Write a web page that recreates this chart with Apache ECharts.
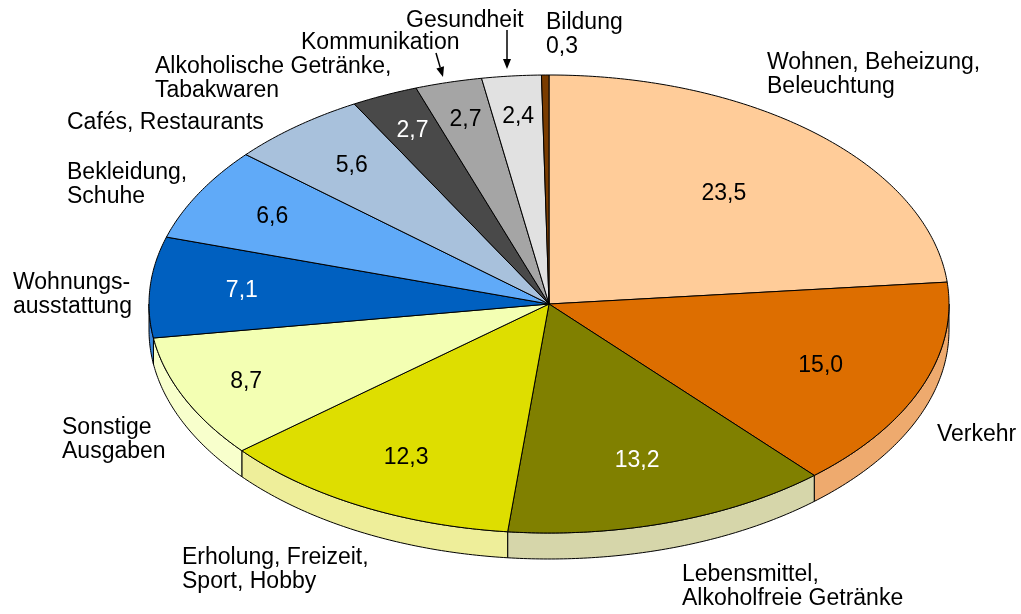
<!DOCTYPE html>
<html>
<head>
<meta charset="utf-8">
<script src="https://cdn.jsdelivr.net/npm/echarts@6/dist/echarts.min.js"></script>
<style>
  html, body { margin: 0; background: #fff; }
  #chart { width: 1021px; height: 614px; }
</style>
</head>
<body>
<div id="chart"></div>
<script>
// == Data ====================================================================
const categories = [
  'Wohnen, Beheizung,\nBeleuchtung', 'Verkehr', 'Lebensmittel,\nAlkoholfreie Getränke',
  'Erholung, Freizeit,\nSport, Hobby', 'Sonstige\nAusgaben', 'Wohnungs-\nausstattung',
  'Bekleidung,\nSchuhe', 'Cafés, Restaurants', 'Alkoholische Getränke,\nTabakwaren',
  'Kommunikation', 'Gesundheit', 'Bildung'
]
const shares = [23.5, 15.0, 13.2, 12.3, 8.7, 7.1, 6.6, 5.6, 2.7, 2.7, 2.4, 0.3]
const valueLabels = shares.map(v => v.toFixed(1).replace('.', ','))

// == Styles ==================================================================
const topColors = ['#ffcc99', '#dd6e00', '#808000', '#dede00', '#f3ffb3', '#0060c0',
  '#60aaf8', '#a8c1dc', '#494949', '#a5a5a5', '#e1e1e1', '#7a3c00']
const sideColors = ['#ffdcb8', '#eeaa6e', '#d6d6aa', '#eeee9a', '#f8ffcc', '#3a88e0',
  '#90c4fa', '#c6d6e8', '#777777', '#c0c0c0', '#eeeeee', '#a06030']
const whiteText = [false, false, true, false, false, true, false, false, true, false, false, false]
// how far out (fraction of the radius) the value label sits inside each slice
const labelPull = [0.65, 0.73, 0.72, 0.76, 0.83, 0.77, 0.79, 0.78, 0.83, 0.83, 0.82, 0]

const FONT = '23px "Liberation Sans", Arial, sans-serif'
const cx = 549, cy = 304, rx = 400, ry = 229, depth = 26

// outer label boxes (left, top) and arrows
const outerPos = [[767, 51], [937, 423], [682, 563], [182, 546], [62, 416], [13, 271],
  [67, 161], [67, 111], [155, 55], [301, 31], [406, 9], [546, 11]]
const arrows = [[[436, 53], [443, 77]], [[507, 30], [507, 69]]]

// == Geometry ================================================================
const total = shares.reduce((a, b) => a + b, 0)
const bounds = []
let cum = 0
shares.forEach(v => {
  const a0 = Math.PI / 2 - 2 * Math.PI * cum / total
  cum += v
  const a1 = Math.PI / 2 - 2 * Math.PI * cum / total
  bounds.push([a0, a1])
})

function arc (a0, a1, dy) {
  const n = Math.max(2, Math.ceil(Math.abs(a1 - a0) / 0.01))
  const pts = []
  for (let i = 0; i <= n; i++) {
    const a = a0 + (a1 - a0) * i / n
    pts.push([cx + rx * Math.cos(a), cy - ry * Math.sin(a) + dy])
  }
  return pts
}

function renderSide (params) {
  const i = params.dataIndex
  const [a0, a1] = bounds[i]
  const s = Math.min(a0, 0), e = Math.max(a1, -Math.PI)
  if (s <= e) return null
  const pts = arc(s, e, 0).concat(arc(s, e, depth).reverse())
  return {
    type: 'polygon',
    shape: { points: pts },
    style: { fill: sideColors[i], stroke: '#000', lineWidth: 1 }
  }
}

function renderTop (params) {
  const i = params.dataIndex
  const [a0, a1] = bounds[i]
  const children = [{
    type: 'polygon',
    shape: { points: [[cx, cy]].concat(arc(a0, a1, 0)) },
    style: { fill: topColors[i], stroke: '#000', lineWidth: 1 }
  }]
  if (labelPull[i] > 0) {
    const m = (a0 + a1) / 2
    children.push({
      type: 'text',
      z2: 10,
      style: {
        text: valueLabels[i],
        x: cx + rx * labelPull[i] * Math.cos(m),
        y: cy - ry * labelPull[i] * Math.sin(m),
        align: 'center',
        verticalAlign: 'middle',
        font: FONT,
        fill: whiteText[i] ? '#fff' : '#000'
      }
    })
  }
  return { type: 'group', children }
}

// == Outer labels ============================================================
const graphic = categories.map((name, i) => ({
  type: 'text',
  left: outerPos[i][0],
  top: outerPos[i][1],
  style: {
    text: i === shares.length - 1 ? name + '\n' + valueLabels[i] : name,
    font: FONT,
    lineHeight: 24,
    fill: '#000'
  }
}))
arrows.forEach(([p, q]) => {
  const ang = Math.atan2(q[1] - p[1], q[0] - p[0])
  const len = 10, half = 4
  const bx = q[0] - len * Math.cos(ang), by = q[1] - len * Math.sin(ang)
  graphic.push({
    type: 'line',
    shape: { x1: p[0], y1: p[1], x2: bx, y2: by },
    style: { stroke: '#000', lineWidth: 1.5 }
  })
  graphic.push({
    type: 'polygon',
    shape: {
      points: [q,
        [bx + half * Math.sin(ang), by - half * Math.cos(ang)],
        [bx - half * Math.sin(ang), by + half * Math.cos(ang)]]
    },
    style: { fill: '#000' }
  })
})

// == Chart ===================================================================
const seriesData = shares.map((v, i) => ({ name: categories[i], value: [i, v] }))

const chart = echarts.init(document.getElementById('chart'))
chart.setOption({
  animation: false,
  backgroundColor: '#fff',
  graphic,
  series: [
    { type: 'custom', coordinateSystem: 'none', renderItem: renderSide, data: seriesData, silent: true },
    { type: 'custom', coordinateSystem: 'none', renderItem: renderTop, data: seriesData, silent: true }
  ]
})
</script>
</body>
</html>
